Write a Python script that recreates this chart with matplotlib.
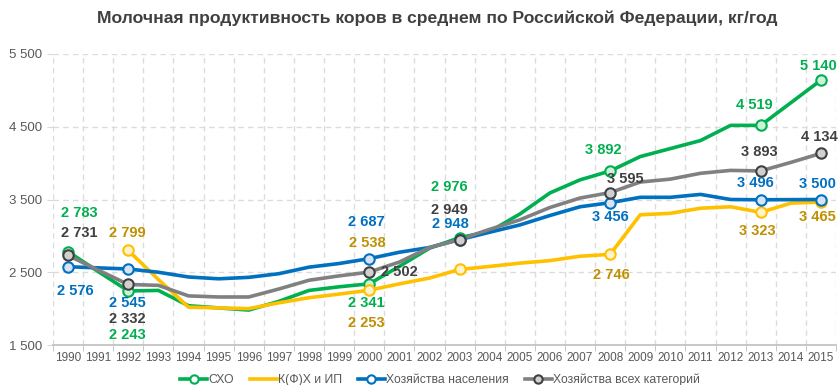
import numpy as np
import matplotlib.pyplot as plt
from matplotlib.lines import Line2D

plt.rcParams['font.family'] = ['Liberation Sans', 'DejaVu Sans']

years = np.arange(1990, 2016)

# Milk yield per cow, kg/year
sho = [2783, 2510, 2243, 2250, 2040, 2010, 1980, 2100, 2250, 2300, 2341, 2580, 2830, 2976, 3060,
       3300, 3590, 3770, 3892, 4090, 4200, 4310, 4519, 4519, 4830, 5140]
kfh = [np.nan, np.nan, 2799, 2400, 2020, 2010, 2000, 2080, 2150, 2200, 2253, 2340, 2420, 2538, 2580,
       2625, 2660, 2720, 2746, 3290, 3310, 3380, 3400, 3323, 3450, 3465]
hn = [2576, 2560, 2545, 2500, 2435, 2410, 2430, 2480, 2570, 2620, 2687, 2775, 2840, 2948, 3050,
      3150, 3280, 3400, 3456, 3530, 3530, 3570, 3500, 3496, 3498, 3500]
vse = [2731, 2530, 2332, 2320, 2175, 2160, 2160, 2270, 2390, 2450, 2502, 2640, 2840, 2949, 3090,
       3220, 3390, 3520, 3595, 3740, 3780, 3860, 3900, 3893, 4010, 4134]

labels = ['СХО', 'К(Ф)Х и ИП', 'Хозяйства населения', 'Хозяйства всех категорий']
marked_years = [1990, 1992, 2000, 2003, 2008, 2013, 2015]

# label offsets in pixels (dx, dy), dy positive = upward
offs_sho = [(11, 39), (-1, -44), (-3, -19), (-10, 51), (-7, 21), (-6, 20), (-3, 14)]
offs_kfh = [None, (-1, 17), (-3, -33), (-92, 26), (1, -21), (-3, -19), (-4, -15)]
offs_hn = [(7, -24), (-1, -34), (-3, 37), (-9, 16), (0, -14), (-5, 17), (-4, 15)]
offs_vse = [(11, 22), (-1, -35), (12, 0), (-10, 30), (15, 14), (-1, 19), (-2, 16)]

series = [
    (sho, '#00B050', '#CCF2D9', '#00B050', '#00B050', offs_sho),
    (kfh, '#FFC000', '#FFF2CC', '#FFC000', '#BF9000', offs_kfh),
    (hn, '#0070C0', '#DAE3F3', '#0070C0', '#0070C0', offs_hn),
    (vse, '#808080', '#D0D0D0', '#404040', '#404040', offs_vse),
]

fig = plt.figure(figsize=(8.4, 3.85), dpi=100)
ax = fig.add_axes([53 / 840, 1 - 345 / 385, (836 - 53) / 840, (345 - 54) / 385])

grid_kw = dict(color='#DCDCDC', lw=1, ls=(0, (4, 3)), zorder=0)
for yv in [2500, 3500, 4500, 5500]:
    ax.axhline(yv, **grid_kw)
for xv in np.arange(1989.5, 2016, 1):
    ax.axvline(xv, **grid_kw)

handles = []
for vals, col, face, edge, tcol, offs in series:
    vals = np.array(vals, dtype=float)
    ax.plot(years, vals, color=col, lw=2.6, zorder=3, solid_capstyle='round')
    for yr, off in zip(marked_years, offs):
        if off is None:
            continue
        v = vals[yr - 1990]
        ax.plot(yr, v, 'o', ms=7.5, mfc=face, mec=edge, mew=1.5, zorder=4)
        dx, dy = off
        ha = 'left' if (dx == 12 and dy == 0) else 'center'
        ax.annotate(f'{int(v):,}'.replace(',', ' '), (yr, v),
                    xytext=(dx * 0.72, dy * 0.72), textcoords='offset points',
                    ha=ha, va='center', fontsize=10.5, fontweight='bold',
                    color=tcol, zorder=5)
    if col == '#FFC000':
        handles.append(Line2D([], [], color=col, lw=2.6))
    else:
        handles.append(Line2D([], [], color=col, lw=2.6, marker='o', ms=6,
                              mfc='white' if col != '#808080' else face, mec=edge, mew=1.5))

ax.set_xlim(1989.5, 2015.5)
ax.set_ylim(1500, 5500)
ax.set_yticks([1500, 2500, 3500, 4500, 5500])
ax.set_yticklabels(['1 500', '2 500', '3 500', '4 500', '5 500'])
ax.set_xticks(years)
ax.set_xticklabels([str(y) for y in years])
ax.set_xticks(np.arange(1989.5, 2016, 1), minor=True)
ax.tick_params(axis='x', which='major', length=0, labelsize=8.5, colors='#595959', pad=5)
ax.tick_params(axis='x', which='minor', length=4, color='#BFBFBF')
ax.tick_params(axis='y', length=4, color='#D9D9D9', labelsize=9.5, labelcolor='#595959', pad=4)

for s in ['top', 'right', 'left']:
    ax.spines[s].set_visible(False)
ax.spines['bottom'].set_color('#BFBFBF')
ax.spines['bottom'].set_linewidth(1.2)

fig.text(437 / 840, 1 - 18 / 385,
         'Молочная продуктивность коров в среднем по Российской Федерации, кг/год',
         ha='center', va='center', fontsize=12.6, fontweight='bold', color='#404040')

fig.legend(handles, labels, loc='center', bbox_to_anchor=(440 / 840, 1 - 380 / 385),
           ncol=4, frameon=False, fontsize=8.8, handlelength=2.2, handletextpad=0.1,
           columnspacing=1.3, labelcolor='#595959')

fig.savefig('out.png', dpi=100, facecolor='white')
